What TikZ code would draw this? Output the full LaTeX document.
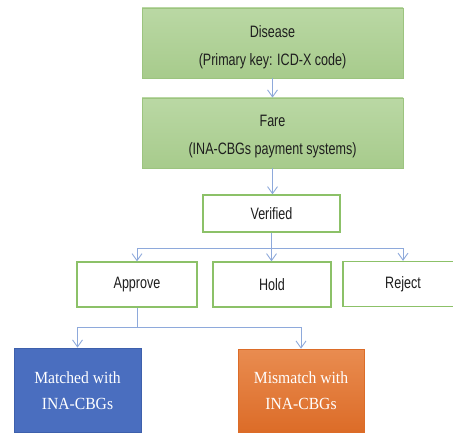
\documentclass[tikz,border=0pt]{standalone}
\usepackage{fontspec}
\usetikzlibrary{arrows.meta,shadows}
\newfontfamily\topfont[FakeStretch=0.76]{Liberation Sans}
\newfontfamily\botfont[FakeStretch=0.92]{Liberation Serif}
\definecolor{greenA}{HTML}{BAD8A4}
\definecolor{greenB}{HTML}{A7CB8C}
\definecolor{greenEdge}{HTML}{9CC47F}
\definecolor{boxEdge}{HTML}{8CC168}
\definecolor{arrowBlue}{HTML}{8EA9DB}
\definecolor{txt}{HTML}{1E1E1E}
\definecolor{blueFill}{HTML}{4A6EBF}
\definecolor{blueEdge}{HTML}{3E60AC}
\definecolor{orangeA}{HTML}{E98C50}
\definecolor{orangeB}{HTML}{DC6C28}
\tikzset{
  greenbox/.style={draw=greenEdge, line width=0.8pt, top color=greenA, bottom color=greenB,
    minimum width=261pt, minimum height=70pt, inner sep=0pt},
  toptext/.style={font=\topfont\fontsize{16.5}{28}\selectfont, text=txt, align=center, inner sep=0pt},
  whitebox/.style={draw=boxEdge, line width=1.3pt, fill=white, inner sep=0pt,
    font=\topfont\fontsize{16.5}{18}\selectfont, text=txt},
  bottext/.style={font=\botfont\fontsize{17}{26}\selectfont, text=white, align=center, inner sep=0pt},
  conn/.style={draw=arrowBlue, line width=0.9pt, -{Straight Barb[length=7pt,width=10pt]}},
  plain/.style={draw=arrowBlue, line width=0.9pt},
}
\begin{document}
\begin{tikzpicture}[x=1pt,y=-1pt]
\useasboundingbox (0,0) rectangle (453,433);
% top green boxes
\node[greenbox] (disease) at (272.5,43) {};
\node[toptext] (diseaseT) at (272.5,47) {Disease\\(Primary key: ICD-X code)};
\node[greenbox] (fare) at (272.5,133) {};
\node[toptext] (fareT) at (272.5,137) {Fare\\(INA-CBGs payment systems)};
% verified
\node[whitebox, minimum width=137pt, minimum height=37pt] (verified) at (271.5,213.5) {Verified};
% decision boxes
\node[whitebox, minimum width=120pt, minimum height=45pt] (approve) at (137,284.5) {Approve};
\node[whitebox, minimum width=118pt, minimum height=45pt] (hold) at (272,284.5) {Hold};
\begin{scope}
\clip (0,0) rectangle (453,433);
\node[whitebox, minimum width=120pt, minimum height=45pt] (reject) at (403,284) {Reject};
\end{scope}
% bottom boxes
\node[draw=blueEdge, line width=0.8pt, fill=blueFill, minimum width=127pt, minimum height=84pt, inner sep=0pt] (matched) at (77.5,390) {};
\node[bottext] (matchedT) at (77.5,391) {Matched with\\INA-CBGs};
\node[draw=orangeB, line width=0.6pt, top color=orangeA, bottom color=orangeB, minimum width=126pt, minimum height=83pt, inner sep=0pt,
  drop shadow={shadow xshift=1pt, shadow yshift=-1pt, opacity=0.25}] (mismatch) at (301,390.5) {};
\node[bottext] (mismatchT) at (301,391) {Mismatch with\\INA-CBGs};
% connectors
\draw[conn] (disease.south) -- (fare.north);
\draw[conn] (fare.south) -- (verified.north -| fare.south);
\draw[plain] (verified.south) -- ++(0,16) coordinate (vsplit);
\draw[conn] (vsplit) -| (approve.north);
\draw[conn] (vsplit) -| (reject.north);
\draw[conn] (verified.south) -- (hold.north -| verified.south);
\draw[plain] (approve.south) -- ++(0,20) coordinate (asplit);
\draw[conn] (asplit) -| (matched.north);
\draw[conn] (asplit) -| (mismatch.north);
\end{tikzpicture}
\end{document}
